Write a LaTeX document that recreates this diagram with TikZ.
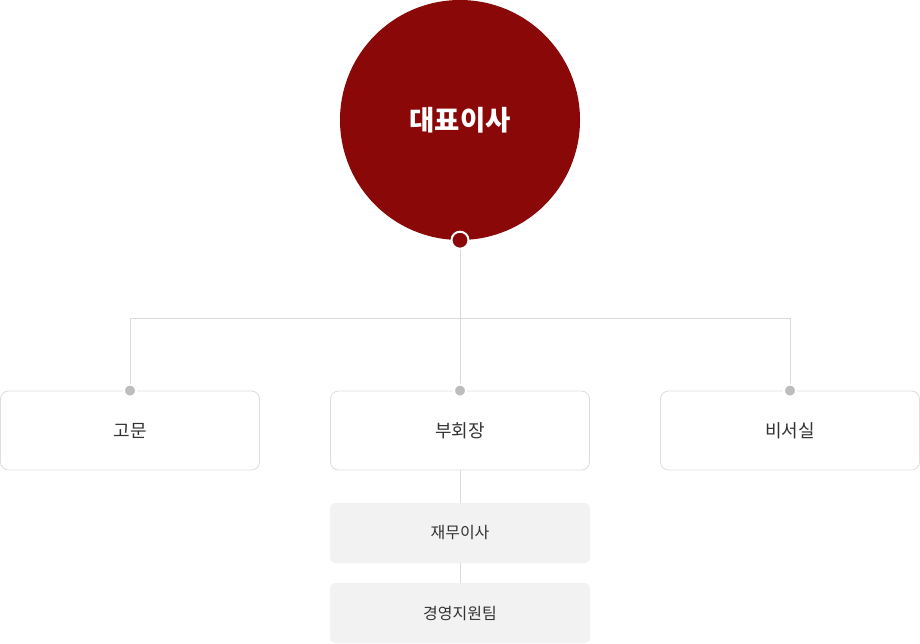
\documentclass[tikz,border=0pt]{standalone}
\usepackage{fontspec}
\newfontfamily\cjk{Noto Sans CJK KR}
\definecolor{ceo}{HTML}{8A0808}
\definecolor{lineg}{HTML}{DADADA}
\definecolor{boxb}{HTML}{DDDDDD}
\definecolor{dotg}{HTML}{BDBDBD}
\definecolor{subf}{HTML}{F2F2F2}
\definecolor{txt}{HTML}{333333}
\tikzset{
  ceonode/.style={circle, fill=ceo, minimum size=240pt, inner sep=0pt, text=white, font=\cjk\bfseries\fontsize{27.5pt}{32pt}\selectfont},
  mainbox/.style={draw=boxb, line width=0.8pt, rounded corners=8pt, fill=white, minimum width=259pt, minimum height=79pt, inner sep=0pt, text=txt, font=\cjk\fontsize{18pt}{22pt}\selectfont},
  subbox/.style={fill=subf, rounded corners=5pt, minimum width=260pt, minimum height=60pt, inner sep=0pt, text=txt, font=\cjk\fontsize{16pt}{19pt}\selectfont},
  conn/.style={draw=lineg, line width=0.8pt},
  topdot/.style={circle, fill=ceo, draw=white, line width=2pt, minimum size=17pt, inner sep=0pt},
  boxdot/.style={circle, fill=dotg, draw=white, line width=2pt, minimum size=12pt, inner sep=0pt},
}
\begin{document}
\begin{tikzpicture}[x=1pt,y=-1pt]
\useasboundingbox (0,0) rectangle (920,643);
\node[ceonode] (ceo) at (460,120) {대표이사};
\coordinate (split) at (460,318);
\coordinate (lsplit) at (130,318);
\coordinate (rsplit) at (790,318);
\node[mainbox] (gm) at (130,430.5) {고문};
\node[mainbox] (vc) at (460,430.5) {부회장};
\node[mainbox] (sec) at (790,430.5) {비서실};
\node[subbox] (fin) at (460,533) {재무이사};
\node[subbox] (mgt) at (460,613) {경영지원팀};
\draw[conn] (ceo.south) -- (vc.north);
\draw[conn] (lsplit) -- (rsplit);
\draw[conn] (lsplit) -- (gm.north);
\draw[conn] (rsplit) -- (sec.north);
\draw[conn] (vc.south) -- (fin.north);
\draw[conn] (fin.south) -- (mgt.north);
\node[topdot] (cd) at (ceo.south) {};
\node[boxdot] (d1) at (gm.north) {};
\node[boxdot] (d2) at (vc.north) {};
\node[boxdot] (d3) at (sec.north) {};
\end{tikzpicture}
\end{document}
